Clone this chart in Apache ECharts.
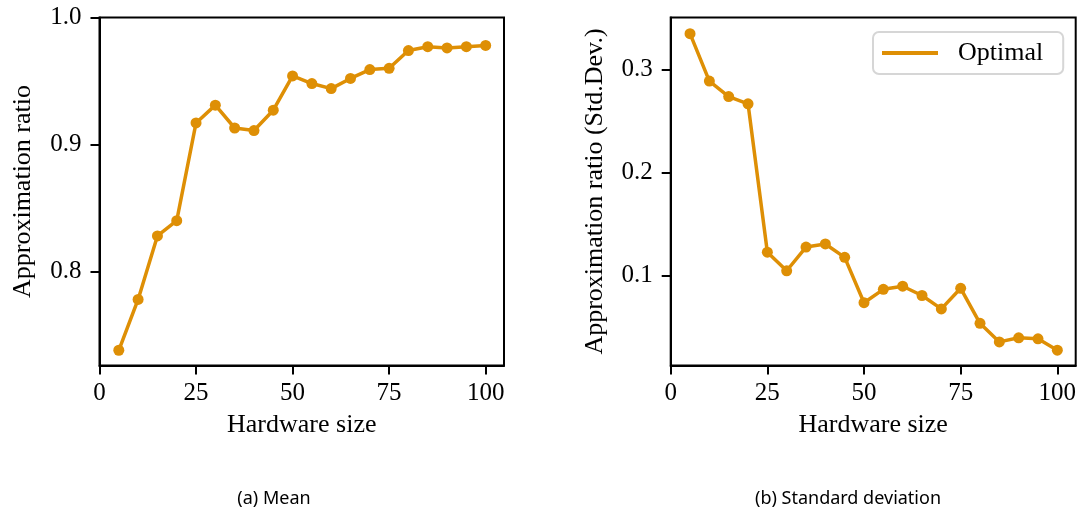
<!DOCTYPE html>
<html>
<head>
<meta charset="utf-8">
<script src="https://cdn.jsdelivr.net/npm/echarts@6/dist/echarts.min.js"></script>
<style>
  html, body { margin: 0; padding: 0; background: #fff; }
  #chart { width: 1082px; height: 512px; }
</style>
</head>
<body>
<div id="chart"></div>
<script>
const hardwareSize = [5, 10, 15, 20, 25, 30, 35, 40, 45, 50, 55, 60, 65, 70, 75, 80, 85, 90, 95, 100]
const meanRatio = [0.738, 0.778, 0.828, 0.840, 0.917, 0.931, 0.913, 0.911, 0.927, 0.954,
  0.948, 0.944, 0.952, 0.959, 0.960, 0.974, 0.977, 0.976, 0.977, 0.978]
const stdRatio = [0.335, 0.289, 0.274, 0.267, 0.123, 0.105, 0.128, 0.131, 0.118, 0.074,
  0.087, 0.090, 0.081, 0.068, 0.088, 0.054, 0.036, 0.040, 0.039, 0.028]
const xTicks = [0, 25, 50, 75, 100]
const meanTicks = [0.8, 0.9, 1.0]
const stdTicks = [0.1, 0.2, 0.3]

const color = '#de8f05'
const serif = 'Liberation Serif, DejaVu Serif, serif'
const sans = 'Noto Sans, Open Sans, sans-serif'

const chart = echarts.init(document.getElementById('chart'))

const axisLine = { show: true, lineStyle: { color: '#000', width: 2 } }

const xAxisBase = (gridIndex) => ({
  type: 'value',
  gridIndex,
  min: 0,
  max: 104.75,
  name: 'Hardware size',
  nameLocation: 'middle',
  nameGap: 47,
  nameTextStyle: { fontFamily: serif, fontSize: 26, color: '#000' },
  axisLine,
  axisTick: { show: true, length: 9, customValues: xTicks, lineStyle: { color: '#000', width: 2 } },
  axisLabel: { customValues: xTicks, margin: 15, fontFamily: serif, fontSize: 25, color: '#000' },
  splitLine: { show: false }
})

const yAxisBase = (gridIndex, min, max, ticks, name) => ({
  type: 'value',
  gridIndex,
  min,
  max,
  name,
  nameLocation: 'middle',
  nameGap: 63,
  nameTextStyle: { fontFamily: serif, fontSize: 26, color: '#000' },
  axisLine,
  axisTick: { show: true, length: 9, customValues: ticks, lineStyle: { color: '#000', width: 2 } },
  axisLabel: {
    customValues: ticks,
    margin: 18,
    fontFamily: serif,
    fontSize: 25,
    color: '#000',
    formatter: (v) => v.toFixed(1)
  },
  splitLine: { show: false }
})

const option = {
  animation: false,
  grid: [
    { left: 99.5, top: 17.5, width: 404.5, height: 348, show: true, borderColor: '#000', borderWidth: 2 },
    { left: 670.7, top: 17.5, width: 405, height: 348, show: true, borderColor: '#000', borderWidth: 2 }
  ],
  xAxis: [xAxisBase(0), xAxisBase(1)],
  yAxis: [
    yAxisBase(0, 0.726, 1.0, meanTicks, 'Approximation ratio'),
    yAxisBase(1, 0.0131, 0.3507, stdTicks, 'Approximation ratio (Std.Dev.)')
  ],
  legend: {
    data: ['Optimal'],
    left: 873,
    top: 32,
    icon: 'rect',
    itemWidth: 56,
    itemHeight: 4,
    padding: [8, 20, 8, 9],
    borderColor: '#d6d6d6',
    borderWidth: 2,
    borderRadius: 6,
    textStyle: { fontFamily: serif, fontSize: 26, color: '#000', padding: [0, 0, 0, 15] }
  },
  series: [
    {
      name: 'Mean',
      type: 'line',
      xAxisIndex: 0,
      yAxisIndex: 0,
      data: hardwareSize.map((x, i) => [x, meanRatio[i]]),
      symbol: 'circle',
      symbolSize: 11,
      lineStyle: { color, width: 3.5 },
      itemStyle: { color }
    },
    {
      name: 'Optimal',
      type: 'line',
      xAxisIndex: 1,
      yAxisIndex: 1,
      data: hardwareSize.map((x, i) => [x, stdRatio[i]]),
      symbol: 'circle',
      symbolSize: 11,
      lineStyle: { color, width: 3.5 },
      itemStyle: { color }
    }
  ],
  graphic: [
    {
      type: 'text',
      x: 274,
      y: 499,
      style: { text: '(a) Mean', fontFamily: sans, fontSize: 18, fill: '#000', align: 'center', verticalAlign: 'middle' }
    },
    {
      type: 'text',
      x: 848,
      y: 499,
      style: { text: '(b) Standard deviation', fontFamily: sans, fontSize: 18, fill: '#000', align: 'center', verticalAlign: 'middle' }
    }
  ]
}

chart.setOption(option)
</script>
</body>
</html>
